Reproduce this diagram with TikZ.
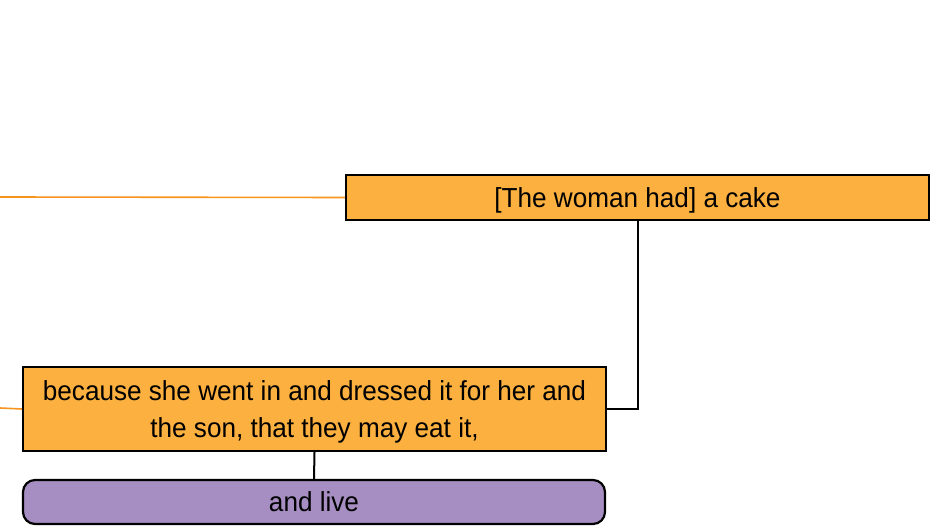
\documentclass[tikz,border=0pt]{standalone}
\usepackage{fontspec}
\setmainfont{Liberation Sans}[FakeStretch=0.95]
\usetikzlibrary{backgrounds}
\pgfdeclarelayer{edgelayer}
\pgfdeclarelayer{nodelayer}
\pgfsetlayers{edgelayer,nodelayer,main}
\definecolor{boxorange}{RGB}{251,176,64}
\definecolor{lineorange}{RGB}{247,148,29}
\definecolor{boxpurple}{RGB}{166,142,194}
\tikzset{font=\fontsize{27.5}{37}\selectfont}
\tikzstyle{none}=[inner sep=0pt]
\tikzstyle{orangebox}=[rectangle,fill=boxorange,draw=black,line width=2.2pt,minimum width=583pt,inner sep=0pt,align=center,text depth=0pt]
\tikzstyle{purplebox}=[rectangle,rounded corners=12pt,fill=boxpurple,draw=black,line width=2.2pt,minimum width=582pt,minimum height=44pt,inner sep=0pt,text height=19.7pt,text depth=0pt]
\tikzstyle{orangeline}=[draw=lineorange,line width=1.6pt]
\tikzstyle{blackline}=[draw=black,line width=2pt]

\begin{document}
\begin{tikzpicture}[x=1pt,y=-1pt]
	\useasboundingbox (0,0) rectangle (939,526);
	\begin{pgfonlayer}{nodelayer}
		\node [style=orangebox, minimum height=45pt, text height=19.7pt] (0) at (637.5, 197.5) {[The woman had] a cake};
		\node [style=orangebox, minimum height=84pt, text height=57pt] (1) at (314.5, 409) {because she went in and dressed it for her and\\the son, that they may eat it,};
		\node [style=purplebox] (2) at (314, 502) {and live};
		\node [style=none] (3) at (0, 197) {};
		\node [style=none] (4) at (0, 408) {};
	\end{pgfonlayer}
	\begin{pgfonlayer}{edgelayer}
		\draw [style=orangeline] (3.center) to (0.west);
		\draw [style=orangeline] (4.center) to (1.west);
		\draw [style=blackline] (0.south) |- (1.east);
		\draw [style=blackline] (1.south) to (2.north);
	\end{pgfonlayer}
\end{tikzpicture}
\end{document}
